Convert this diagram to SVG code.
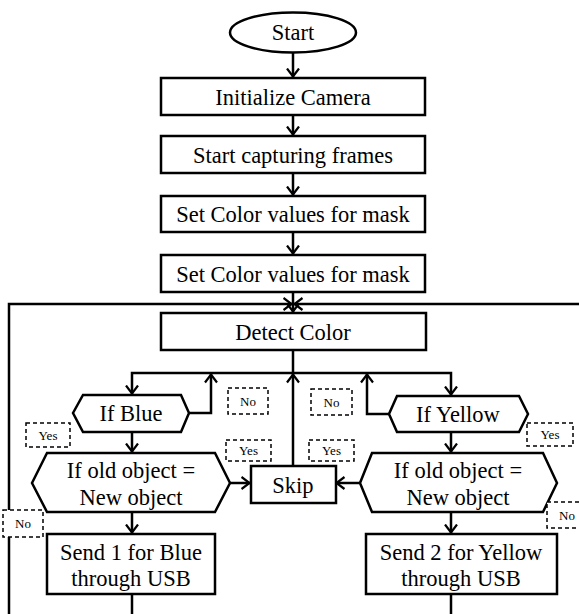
<svg xmlns="http://www.w3.org/2000/svg" width="579" height="614" viewBox="0 0 579 614">
<style>
.n{fill:#fff;stroke:#000;stroke-width:2.5}
.t{font-family:'Liberation Serif','DejaVu Serif',serif;font-size:22.5px;fill:#000;text-anchor:middle;dominant-baseline:central}
.s{font-family:'Liberation Serif','DejaVu Serif',serif;font-size:13px;fill:#000;text-anchor:middle;dominant-baseline:central}
.d{fill:#fff;stroke:#000;stroke-width:1.5;stroke-dasharray:4,3}
.c{fill:none;stroke:#000;stroke-width:2.5}
.a{marker-end:url(#ah)}
</style>
<defs>
<marker id="ah" markerUnits="userSpaceOnUse" viewBox="0 0 10 14" refX="9.5" refY="7" markerWidth="10" markerHeight="14" orient="auto">
<path d="M1,1 L9,7 L1,13" fill="none" stroke="#000" stroke-width="2.2"/>
</marker>
</defs>
<rect width="579" height="614" fill="#fff"/>
<g id="connectors">
<path class="c a" d="M293,53 V77"/>
<path class="c a" d="M293,115 V135"/>
<path class="c a" d="M293,173 V195"/>
<path class="c a" d="M293,232 V254"/>
<path class="c a" d="M293,292 V312"/>
<path class="c a" d="M9,614 V304 H292"/>
<path class="c a" d="M579,304 H294"/>
<path class="c" d="M293,350 V373"/>
<path class="c a" d="M293,373 H132 V394"/>
<path class="c a" d="M293,373 H451 V395"/>
<path class="c a" d="M189,413 H211 V374"/>
<path class="c a" d="M389,414 H367 V374"/>
<path class="c a" d="M293,466 V374"/>
<path class="c a" d="M132,432 V452"/>
<path class="c a" d="M451,432 V452"/>
<path class="c a" d="M230,483 H250"/>
<path class="c a" d="M360,483 H336"/>
<path class="c a" d="M132,512 V533"/>
<path class="c a" d="M451,512 V533"/>
<path class="c" d="M132,594 V614"/>
<path class="c" d="M451,594 V614"/>
</g>
<g id="start"><ellipse class="n" cx="293" cy="32.5" rx="63" ry="20"/><text class="t" x="293" y="32">Start</text></g>
<g id="init"><rect class="n" x="161" y="78" width="264" height="37"/><text class="t" x="293" y="97">Initialize Camera</text></g>
<g id="capture"><rect class="n" x="161" y="136" width="264" height="37"/><text class="t" x="293" y="155">Start capturing frames</text></g>
<g id="mask1"><rect class="n" x="161" y="196" width="264" height="36"/><text class="t" x="293" y="214">Set Color values for mask</text></g>
<g id="mask2"><rect class="n" x="161" y="255" width="264" height="37"/><text class="t" x="293" y="274">Set Color values for mask</text></g>
<g id="detect"><rect class="n" x="161" y="313" width="265" height="37"/><text class="t" x="293" y="332">Detect Color</text></g>
<g id="ifblue"><polygon class="n" points="73,413 83,395 181,395 189,413 181,432 83,432"/><text class="t" x="131" y="413">If Blue</text></g>
<g id="ifyellow"><polygon class="n" points="389,414 397,396 519,396 528,414 519,432 397,432"/><text class="t" x="458" y="414">If Yellow</text></g>
<g id="oldblue"><polygon class="n" points="32,483 47,453 215,453 230,483 215,512 47,512"/><text class="t" x="131" y="470">If old object =</text><text class="t" x="131" y="497">New object</text></g>
<g id="oldyellow"><polygon class="n" points="360,483 372,453 543,453 557,483 543,512 372,512"/><text class="t" x="458" y="470">If old object =</text><text class="t" x="458" y="497">New object</text></g>
<g id="skip"><rect class="n" x="251" y="466" width="85" height="37"/><text class="t" x="293" y="485">Skip</text></g>
<g id="send1"><rect class="n" x="47" y="534" width="168" height="60"/><text class="t" x="131" y="552">Send 1 for Blue</text><text class="t" x="131" y="578">through USB</text></g>
<g id="send2"><rect class="n" x="366" y="534" width="191" height="60"/><text class="t" x="461" y="552">Send 2 for Yellow</text><text class="t" x="461" y="578">through USB</text></g>
<g id="labels">
<rect class="d" x="228" y="388" width="40" height="26"/><text class="s" x="248" y="401">No</text>
<rect class="d" x="311" y="389" width="41" height="26"/><text class="s" x="331.5" y="402">No</text>
<rect class="d" x="26" y="423" width="44" height="24"/><text class="s" x="48" y="435">Yes</text>
<rect class="d" x="527" y="423" width="46" height="23"/><text class="s" x="550" y="434.5">Yes</text>
<rect class="d" x="226" y="440" width="45" height="21"/><text class="s" x="248.5" y="450.5">Yes</text>
<rect class="d" x="309" y="440" width="45" height="21"/><text class="s" x="331.5" y="450.5">Yes</text>
<rect class="d" x="3" y="510" width="40" height="27"/><text class="s" x="23" y="523.5">No</text>
<rect class="d" x="547" y="502" width="40" height="26"/><text class="s" x="567" y="515">No</text>
</g>
</svg>
